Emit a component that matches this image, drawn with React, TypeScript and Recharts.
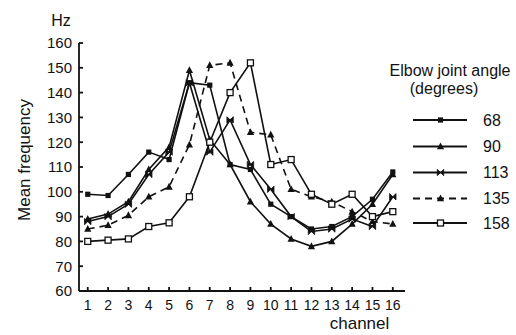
import React from 'react';
import { LineChart, Line, XAxis, YAxis, Legend } from 'recharts';

const channels = [1, 2, 3, 4, 5, 6, 7, 8, 9, 10, 11, 12, 13, 14, 15, 16];
const angle68 = [99, 98.5, 107, 116, 113, 144, 143, 111, 109, 95, 90, 85, 86, 90, 97, 108];
const angle90 = [89, 91, 96, 109, 118, 149, 121, 111, 96, 87, 81, 78, 80, 87, 95, 107];
const angle113 = [88, 90, 95, 107, 116, 144, 116, 129, 111, 101, 90, 84, 85, 89, 86, 98];
const angle135 = [85, 86.5, 90.5, 98, 102, 119, 151, 152, 124, 123, 101, 98, 96, 92, 88, 87];
const angle158 = [80, 80.5, 81, 86, 87.5, 98, 120, 140, 152, 111, 113, 99, 95, 99, 90, 92];
const seriesLabels = ['68', '90', '113', '135', '158'];
const yTicks = [60, 70, 80, 90, 100, 110, 120, 130, 140, 150, 160];
const xTicks = channels;

const data = channels.map((c, i) => ({
  channel: c,
  a68: angle68[i],
  a90: angle90[i],
  a113: angle113[i],
  a135: angle135[i],
  a158: angle158[i],
}));

const INK = '#111';
const FONT = '"Liberation Sans", Arial, Helvetica, sans-serif';

type Shape = 'square' | 'triangle' | 'cross' | 'triangle2' | 'open';

function marker(shape: Shape, cx: number, cy: number, key?: string | number) {
  switch (shape) {
    case 'square':
      return <rect key={key} x={cx - 2.6} y={cy - 2.6} width={5.2} height={5.2} fill={INK} />;
    case 'triangle':
    case 'triangle2':
      return (
        <polygon
          key={key}
          points={`${cx},${cy - 4} ${cx - 3.6},${cy + 2.8} ${cx + 3.6},${cy + 2.8}`}
          fill={INK}
        />
      );
    case 'cross':
      return (
        <g key={key}>
          <polygon
            points={`${cx - 3.2},${cy - 3.2} ${cx + 3.2},${cy + 3.2} ${cx + 3.2},${cy - 3.2} ${cx - 3.2},${cy + 3.2}`}
            fill={INK}
            stroke={INK}
            strokeWidth={0.8}
          />
        </g>
      );
    case 'open':
    default:
      return (
        <rect
          key={key}
          x={cx - 3}
          y={cy - 3}
          width={6}
          height={6}
          fill="#fff"
          stroke={INK}
          strokeWidth={1.3}
        />
      );
  }
}

const series: { key: string; shape: Shape; dash?: string }[] = [
  { key: 'a68', shape: 'square' },
  { key: 'a90', shape: 'triangle' },
  { key: 'a113', shape: 'cross' },
  { key: 'a135', shape: 'triangle2', dash: '7 5' },
  { key: 'a158', shape: 'open' },
];

const makeDot = (shape: Shape) => (props: any) => {
  const { cx, cy, index } = props;
  if (cx == null || cy == null) return <g key={`e${index}`} />;
  return marker(shape, cx, cy, `${shape}-${index}`);
};

const LegendContent = () => {
  const rowY = [80, 106.5, 132.5, 158.5, 183];
  return (
    <svg width={146} height={200} style={{ display: 'block', overflow: 'visible' }}>
      <text x={80} y={36} textAnchor="middle" fontSize={16} fontFamily={FONT} fill={INK}>
        Elbow joint angle
      </text>
      <text x={74} y={54} textAnchor="middle" fontSize={16} fontFamily={FONT} fill={INK}>
        (degrees)
      </text>
      {series.map((s, i) => (
        <g key={s.key}>
          <line
            x1={43}
            x2={97}
            y1={rowY[i]}
            y2={rowY[i]}
            stroke={INK}
            strokeWidth={1.8}
            strokeDasharray={s.dash}
          />
          {marker(s.shape, 70.5, rowY[i])}
          <text x={113} y={rowY[i] + 5.5} fontSize={16} fontFamily={FONT} fill={INK}>
            {seriesLabels[i]}
          </text>
        </g>
      ))}
    </svg>
  );
};

export default function App() {
  return (
    <div style={{ position: 'absolute', left: 0, top: 0, width: 516, height: 335, background: '#fff' }}>
      <LineChart
        width={516}
        height={335}
        data={data}
        margin={{ top: 43, right: 111, bottom: 14, left: 19 }}
      >
        <XAxis
          dataKey="channel"
          type="number"
          domain={[0.57, 16.6]}
          ticks={xTicks}
          interval={0}
          height={30}
          tickSize={-4}
          tickMargin={13}
          stroke={INK}
          strokeWidth={1.8}
          tick={{ fill: INK, fontSize: 14, fontFamily: FONT }}
          allowDataOverflow
        />
        <YAxis
          type="number"
          domain={[60, 160]}
          ticks={yTicks}
          interval={0}
          width={60}
          tickSize={-4}
          tickMargin={11}
          stroke={INK}
          strokeWidth={1.8}
          tick={{ fill: INK, fontSize: 15, fontFamily: FONT }}
          allowDataOverflow
        />
        <Legend
          layout="vertical"
          align="center"
          verticalAlign="middle"
          content={() => <LegendContent />}
          wrapperStyle={{ left: 370, top: 40, width: 146, height: 200 }}
        />
        {series.map((s) => (
          <Line
            key={s.key}
            dataKey={s.key}
            type="linear"
            stroke={INK}
            strokeWidth={1.6}
            strokeDasharray={s.dash}
            dot={makeDot(s.shape)}
            activeDot={false}
            isAnimationActive={false}
            legendType="none"
          />
        ))}
        <text x={61} y={25.5} textAnchor="middle" fontSize={16} fontFamily={FONT} fill={INK}>
          Hz
        </text>
        <text
          x={24.5}
          y={160}
          textAnchor="middle"
          dominantBaseline="central"
          transform="rotate(-90 24.5 160)"
          fontSize={17}
          fontFamily={FONT}
          fill={INK}
        >
          Mean frequency
        </text>
        <text x={359.5} y={329} textAnchor="middle" fontSize={17} fontFamily={FONT} fill={INK}>
          channel
        </text>
      </LineChart>
    </div>
  );
}
